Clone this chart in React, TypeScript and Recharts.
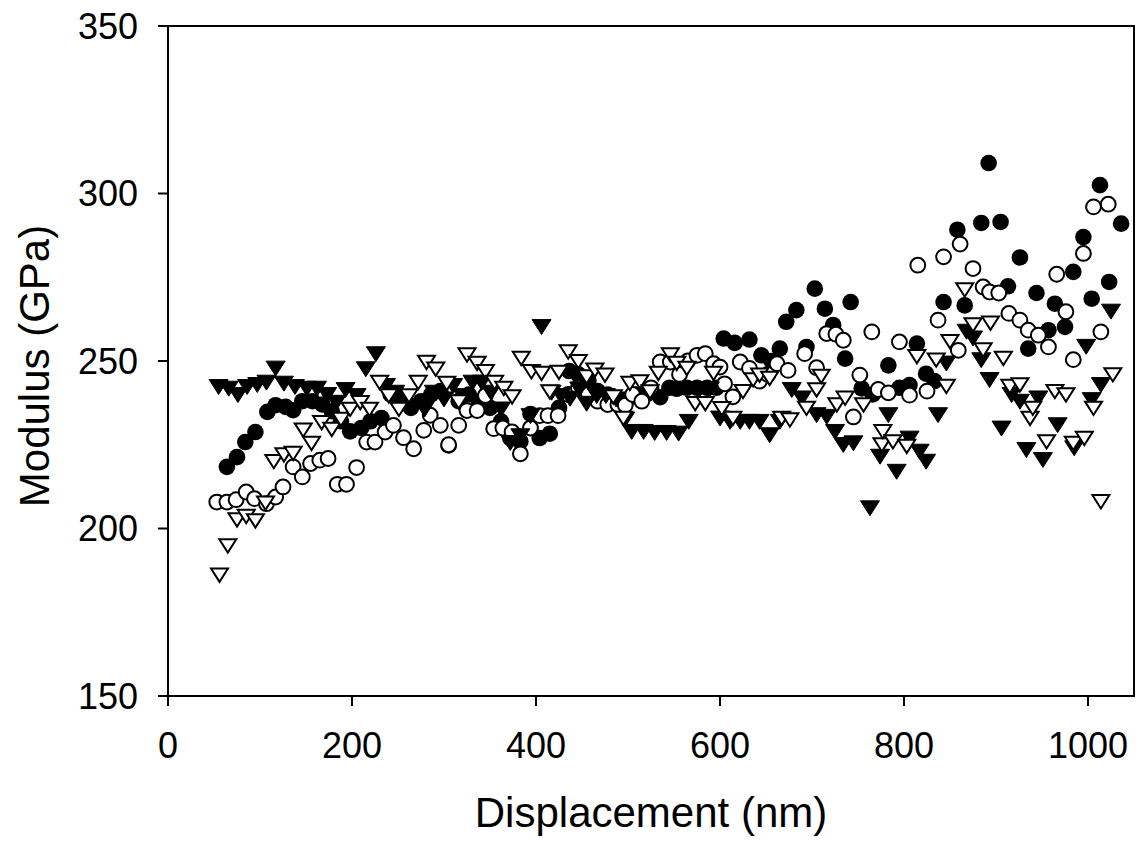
import React from 'react';
import { ScatterChart, Scatter, XAxis, YAxis, ReferenceArea, Label } from 'recharts';

const xTicks = [0, 200, 400, 600, 800, 1000];
const yTicks = [150, 200, 250, 300, 350];

const filledCircles: [number, number][] = [
  [64,218.4],[75,221.3],[84,225.8],[95,228.8],[108,234.8],[117,236.8],[128,236.3],[136,235.3],[146,238],[157,238],
  [168,237],[178,235],[188,232],[198,229],[210,230],[220,232],[232,233],[242,240],[253,238],[264,236],
  [275,238],[286,240],[296,241],[305,224.8],[316,238],[327,240],[338,238],[350,236],[362,232],[372,227],
  [383,226],[394,234.2],[404,227],[415,228.3],[425,236],[436,247],[446,246],[457,244],[467,241],[478,240],
  [488,238],[498,238],[509,240],[520,240],[535,239.2],[545,242],[553,241.7],[564,242],[575,242],[586,242],
  [596,242],[604,256.7],[616,255.4],[632,256.4],[645,251.7],[656,250],[665,253.7],[672,261.7],[683,265.2],[694,254.2],
  [703,271.6],[714,265.6],[723,260.7],[736,250.7],[742,267.6],[754,241.8],[766,240],[783,248.7],[795,242],[806,242.8],
  [814,255.2],[824,246.2],[833,244],[843,267.6],[858,289.2],[866,266.6],[884,291.2],[892,309.1],[905,291.5],[913,272.3],
  [926,280.9],[935,253.7],[944,270.3],[957,259.2],[964,267.1],[975,260.2],[984,276.6],[995,287],[1004,268.6],[1013,302.5],
  [1023,273.6],[1036,291]
];

const openCircles: [number, number][] = [
  [53,207.9],[64,207.9],[74,208.6],[85,210.9],[94,208.9],[107,207.4],[117,209.4],[125,212.4],[136,218.4],[146,215.4],
  [155,219.4],[165,220.4],[174,220.9],[184,213.2],[194,213.2],[205,218.2],[216,225.8],[225,225.8],[236,228.8],[245,230.8],
  [256,227.1],[267,223.8],[278,229.3],[285,233.8],[296,230.8],[305,225],[316,230.8],[325,235.2],[336,235.2],[345,239.7],
  [354,229.8],[364,230],[374,228.8],[383,222.3],[394,230],[404,233.7],[413,233.7],[424,233.7],[435,240],[446,242],
  [457,240],[467,238],[478,237],[489,237],[497,236.8],[505,240],[515,238],[525,242],[535,249.7],[546,249.7],
  [556,246],[565,250],[575,251.7],[584,252.2],[593,249.2],[600,248.2],[605,243.2],[614,239.3],[622,249.7],[632,247.8],
  [643,244],[652,246],[662,249.2],[674,247.2],[692,252.2],[705,248],[716,258.2],[726,258],[734,256.2],[745,233.3],
  [752,245.8],[765,258.7],[772,241.5],[783,240.5],[795,255.7],[806,239.8],[815,278.6],[825,241],[837,262.2],[843,281.1],
  [859,253.2],[861,284.9],[875,277.6],[886,272.1],[893,270.6],[903,270.3],[914,264.2],[926,262.2],[935,259.2],[946,257.7],
  [957,254.2],[966,275.9],[976,264.7],[984,250.4],[995,282.1],[1006,296],[1014,258.7],[1022,296.8]
];

const filledTriangles: [number, number][] = [
  [55,242.7],[66,242.2],[76,240.3],[86,242.7],[97,243.3],[107,244],[117,248.2],[126,243.7],[138,242.7],[151,242.2],
  [162,242.2],[173,240.3],[183,238],[193,241.8],[205,240],[215,248],[226,252.5],[237,243],[247,241],[258,239],
  [268,237],[279,236],[289,241],[300,239],[310,243],[320,240],[331,244],[341,244],[351,241],[362,236],
  [372,226],[383,228],[394,234],[406,260.6],[417,241],[427,240],[437,239.2],[447,242],[455,237.7],[466,240],
  [476,240],[487,239],[497,233],[504,229.3],[517,229.3],[529,229],[542,229],[555,228.8],[566,232.3],[578,242],
  [589,242],[600,233.3],[611,232.3],[622,232.3],[632,232.3],[643,232.3],[654,228.3],[665,232.3],[678,241.8],[689,239.3],
  [705,234.3],[716,233.8],[725,229.3],[734,225.4],[745,225.9],[763,206.5],[774,221.9],[783,234.3],[792,217.4],[806,227.3],
  [817,223.4],[824,220.4],[837,234.3],[846,249.7],[868,259.2],[875,257.2],[884,250.7],[893,244.8],[906,230.3],[917,240.3],
  [926,238.3],[933,223.9],[946,239.3],[951,220.9],[967,231.3],[985,224.4],[998,254.7],[1004,238.8],[1014,243.3],[1025,265.2]
];

const openTriangles: [number, number][] = [
  [56,186.5],[65,195.2],[75,203],[85,204],[95,202.7],[106,208],[115,220.4],[126,222.4],[136,222.8],[147,229.8],
  [156,225.8],[167,232],[178,230],[188,233],[198,236],[209,238],[219,236],[230,244],[240,240],[251,236],
  [262,240],[272,244],[281,250],[291,248],[303,243.7],[316,238.2],[325,252.2],[336,249.7],[345,247.2],[355,244],
  [365,242.2],[374,239.7],[384,251.2],[395,247.2],[406,246.7],[415,241.2],[425,247],[435,253.1],[446,250.2],[455,245.7],
  [464,247.7],[475,246.2],[484,239.7],[495,233.3],[502,243.7],[513,244.2],[524,241.2],[533,246.7],[546,252.2],[553,249.7],
  [564,248.2],[573,237.7],[584,237.7],[593,246.7],[602,236.2],[614,233.3],[625,241.3],[636,244.8],[643,246.2],[654,245.2],
  [667,233.3],[676,232.8],[694,236.3],[705,241.8],[710,245.8],[727,237.3],[736,239.3],[756,237.3],[776,225.4],[777,229.3],
  [788,226.3],[803,224.9],[814,251.7],[835,250.7],[846,242.8],[850,256.2],[866,271.6],[875,261.2],[886,253.7],[894,261.7],
  [908,251.2],[915,242.8],[926,243.3],[937,233.3],[940,236.3],[955,226.3],[964,241.3],[976,240.3],[984,225.8],[996,227.3],
  [1006,236.3],[1014,208.4],[1027,246.3]
];

const toPts = (arr: [number, number][]) => arr.map(([x, y]) => ({ x, y }));

const FONT = '"Liberation Sans", Arial, Helvetica, sans-serif';

const FilledCircle = (p: any) => <circle cx={p.cx} cy={p.cy} r={8.3} fill="#000" />;
const OpenCircle = (p: any) => <circle cx={p.cx} cy={p.cy} r={7.4} fill="#fff" stroke="#000" strokeWidth={2} />;
const downTri = (cx: number, cy: number, h: number) =>
  `${cx - h},${cy - h * 0.62} ${cx + h},${cy - h * 0.62} ${cx},${cy + h * 0.95}`;
const FilledTri = (p: any) => <polygon points={downTri(p.cx, p.cy, 9.5)} fill="#000" stroke="#000" strokeWidth={1} />;
const OpenTri = (p: any) => <polygon points={downTri(p.cx, p.cy, 8.5)} fill="#fff" stroke="#000" strokeWidth={2} strokeLinejoin="miter" />;

const XLabel = (props: any) => {
  const vb = props.viewBox || { x: 168, y: 696, width: 966, height: 146 };
  return (
    <text x={vb.x + vb.width / 2} y={vb.y + 131} textAnchor="middle" fontSize={42} fontFamily={FONT} fill="#000">
      Displacement (nm)
    </text>
  );
};

const YLabel = (props: any) => {
  const vb = props.viewBox || { x: 0, y: 26, width: 168, height: 670 };
  const cx = vb.x + 49;
  const cy = vb.y + vb.height / 2 + 5;
  return (
    <text x={cx} y={cy} transform={`rotate(-90, ${cx}, ${cy})`} textAnchor="middle" fontSize={42} fontFamily={FONT} fill="#000">
      Modulus (GPa)
    </text>
  );
};

export default function App() {
  return (
    <div style={{ position: 'absolute', left: 0, top: 0, width: 1144, height: 842, background: '#fff' }}>
      <ScatterChart width={1144} height={842} margin={{ top: 26, right: 10, bottom: 0, left: 0 }}>
        <XAxis
          type="number"
          dataKey="x"
          domain={[0, 1050]}
          ticks={xTicks}
          allowDataOverflow
          height={146}
          tickSize={10}
          tickMargin={26}
          stroke="#000"
          strokeWidth={2}
          tick={{ fill: '#000', fontSize: 36, fontFamily: FONT }}
        >
          <Label content={<XLabel />} />
        </XAxis>
        <YAxis
          type="number"
          dataKey="y"
          domain={[150, 350]}
          ticks={yTicks}
          allowDataOverflow
          width={168}
          tickSize={10}
          tickMargin={20}
          stroke="#000"
          strokeWidth={2}
          tick={{ fill: '#000', fontSize: 36, fontFamily: FONT }}
        >
          <Label content={<YLabel />} />
        </YAxis>
        <ReferenceArea x1={0} x2={1050} y1={150} y2={350} fill="none" stroke="#000" strokeWidth={2} fillOpacity={0} />
        <Scatter data={toPts(filledCircles)} shape={FilledCircle} isAnimationActive={false} />
        <Scatter data={toPts(openCircles)} shape={OpenCircle} isAnimationActive={false} />
        <Scatter data={toPts(filledTriangles)} shape={FilledTri} isAnimationActive={false} />
        <Scatter data={toPts(openTriangles)} shape={OpenTri} isAnimationActive={false} />
      </ScatterChart>
    </div>
  );
}
